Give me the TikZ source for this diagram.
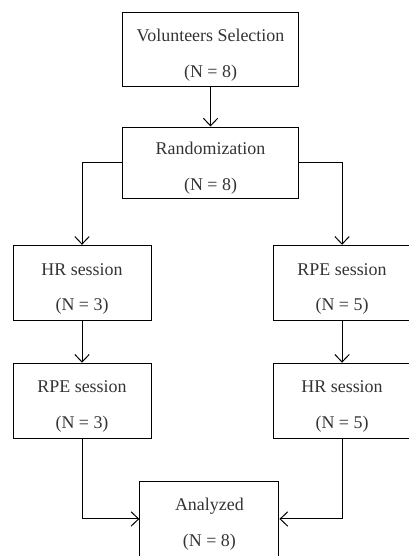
\documentclass[tikz,border=0pt]{standalone}
\usepackage{fontspec}
\setmainfont{Liberation Serif}
\usepackage{tikz}
\usetikzlibrary{arrows.meta,positioning}
\newcommand{\stagetext}[2]{\raisebox{-8pt}[0pt][0pt]{\begin{tabular}{@{}c@{}}#1\\[4.2mm]#2\end{tabular}}}

\begin{document}
\begin{tikzpicture}[
  every node/.style={font=\fontsize{13.5}{15}\selectfont, text=black!80},
  stage/.style={draw, line width=0.75pt, minimum width=#1, minimum height=2.0cm,
                inner sep=0pt},
  arrow/.style={-{Straight Barb[length=2mm,width=3.8mm]}, line width=0.75pt}
]
\useasboundingbox (0,0) rectangle (10.82,-14.71);
\node[stage=4.68cm, minimum height=1.98cm] (sel)  at (5.57,-1.31)  {\stagetext{Volunteers Selection}{(N = 8)}};
\node[stage=4.68cm, minimum height=1.90cm] (rand) at (5.57,-4.31)  {\stagetext{Randomization}{(N = 8)}};
\node[stage=3.65cm] (hrA)  at (2.17,-7.49)  {\stagetext{HR session}{(N = 3)}};
\node[stage=3.65cm] (rpeA) at (2.17,-10.61) {\stagetext{RPE session}{(N = 3)}};
\node[stage=3.65cm] (rpeB) at (9.05,-7.49)  {\stagetext{RPE session}{(N = 5)}};
\node[stage=3.65cm] (hrB)  at (9.05,-10.61) {\stagetext{HR session}{(N = 5)}};
\node[stage=3.68cm] (ana)  at (5.54,-13.73) {\stagetext{Analyzed}{(N = 8)}};
% flow
\draw[arrow] (sel) -- (rand);
\draw[arrow] (rand.west) -| (hrA.north);
\draw[arrow] (rand.east) -| (rpeB.north);
\foreach \from/\to in {hrA/rpeA, rpeB/hrB}
  \draw[arrow] (\from) -- (\to);
\draw[arrow] (rpeA.south) |- (ana.west);
\draw[arrow] (hrB.south) |- (ana.east);
\end{tikzpicture}
\end{document}
